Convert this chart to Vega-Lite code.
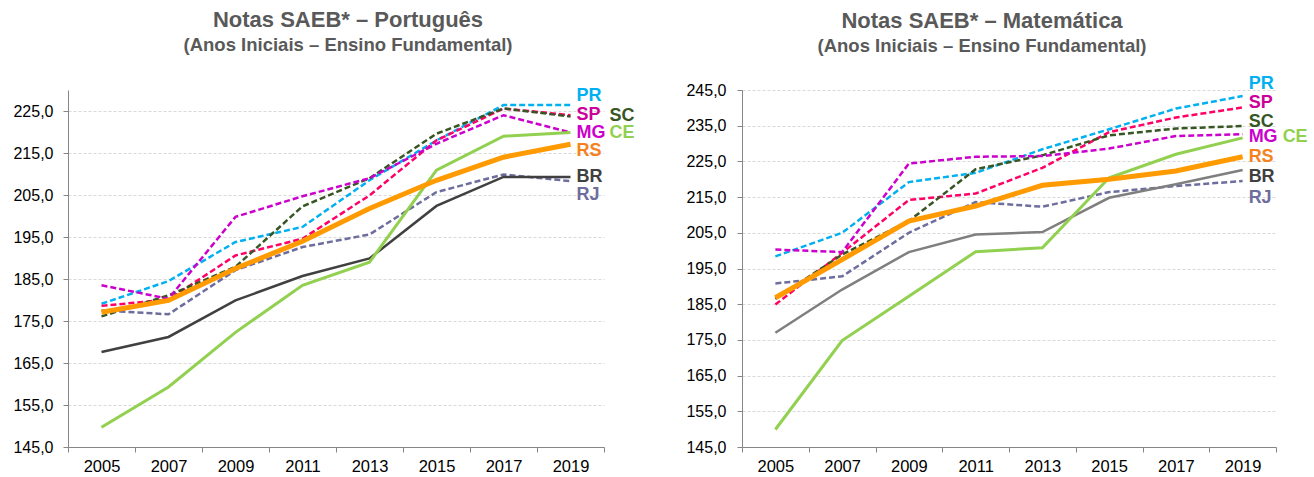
{
  "$schema": "https://vega.github.io/schema/vega-lite/v6.json",
  "autosize": {"type": "none"},
  "padding": {"left": 68, "top": 90, "right": 1246, "bottom": 387},
  "background": "white",
  "spacing": 138,
  "bounds": "flush",
  "config": {
    "font": "Liberation Sans",
    "view": {"stroke": null},
    "axis": {
      "labelFont": "Liberation Sans",
      "labelFontSize": 16,
      "labelColor": "#000000",
      "domainColor": "#868686",
      "tickColor": "#868686",
      "title": null
    },
    "axisY": {"grid": true, "gridColor": "#d9d9d9", "gridDash": [3, 2], "tickSize": 5, "labelPadding": 10},
    "axisX": {"grid": false, "tickSize": 5, "tickBand": "extent", "labelPadding": 6, "labelAngle": 0, "labelFontSize": 16.5}
  },
  "hconcat": [
    {
      "width": 536,
      "height": 357,
      "title": {"text": "Notas SAEB* – Português", "subtitle": "(Anos Iniciais – Ensino Fundamental)", "dx": 12,
                "font": "Liberation Sans", "fontSize": 22, "fontWeight": "bold", "color": "#595959",
                "subtitleFont": "Liberation Sans", "subtitleFontSize": 18.5, "subtitleFontWeight": "bold", "subtitleColor": "#595959",
                "subtitlePadding": 4, "offset": 31, "frame": "group", "anchor": "middle"},
      "data": {"values": [
        {"uf": "PR", "ano": 2005, "nota": 179.1}, {"uf": "PR", "ano": 2007, "nota": 184.5}, {"uf": "PR", "ano": 2009, "nota": 193.8}, {"uf": "PR", "ano": 2011, "nota": 197.4}, {"uf": "PR", "ano": 2013, "nota": 208.5}, {"uf": "PR", "ano": 2015, "nota": 218.0}, {"uf": "PR", "ano": 2017, "nota": 226.4}, {"uf": "PR", "ano": 2019, "nota": 226.4},
        {"uf": "SP", "ano": 2005, "nota": 178.6}, {"uf": "SP", "ano": 2007, "nota": 180.1}, {"uf": "SP", "ano": 2009, "nota": 190.6}, {"uf": "SP", "ano": 2011, "nota": 194.6}, {"uf": "SP", "ano": 2013, "nota": 204.9}, {"uf": "SP", "ano": 2015, "nota": 218.0}, {"uf": "SP", "ano": 2017, "nota": 225.6}, {"uf": "SP", "ano": 2019, "nota": 224.0},
        {"uf": "SC", "ano": 2005, "nota": 176.1}, {"uf": "SC", "ano": 2007, "nota": 181.1}, {"uf": "SC", "ano": 2009, "nota": 187.9}, {"uf": "SC", "ano": 2011, "nota": 202.3}, {"uf": "SC", "ano": 2013, "nota": 209.0}, {"uf": "SC", "ano": 2015, "nota": 219.6}, {"uf": "SC", "ano": 2017, "nota": 225.6}, {"uf": "SC", "ano": 2019, "nota": 223.7},
        {"uf": "MG", "ano": 2005, "nota": 183.5}, {"uf": "MG", "ano": 2007, "nota": 180.3}, {"uf": "MG", "ano": 2009, "nota": 199.8}, {"uf": "MG", "ano": 2011, "nota": 204.7}, {"uf": "MG", "ano": 2013, "nota": 209.0}, {"uf": "MG", "ano": 2015, "nota": 217.2}, {"uf": "MG", "ano": 2017, "nota": 224.0}, {"uf": "MG", "ano": 2019, "nota": 219.9},
        {"uf": "RJ", "ano": 2005, "nota": 177.5}, {"uf": "RJ", "ano": 2007, "nota": 176.6}, {"uf": "RJ", "ano": 2009, "nota": 187.1}, {"uf": "RJ", "ano": 2011, "nota": 192.6}, {"uf": "RJ", "ano": 2013, "nota": 195.6}, {"uf": "RJ", "ano": 2015, "nota": 205.7}, {"uf": "RJ", "ano": 2017, "nota": 209.9}, {"uf": "RJ", "ano": 2019, "nota": 208.3},
        {"uf": "BR", "ano": 2005, "nota": 167.6}, {"uf": "BR", "ano": 2007, "nota": 171.2}, {"uf": "BR", "ano": 2009, "nota": 179.9}, {"uf": "BR", "ano": 2011, "nota": 185.7}, {"uf": "BR", "ano": 2013, "nota": 189.9}, {"uf": "BR", "ano": 2015, "nota": 202.4}, {"uf": "BR", "ano": 2017, "nota": 209.3}, {"uf": "BR", "ano": 2019, "nota": 209.3},
        {"uf": "CE", "ano": 2005, "nota": 149.7}, {"uf": "CE", "ano": 2007, "nota": 159.3}, {"uf": "CE", "ano": 2009, "nota": 172.3}, {"uf": "CE", "ano": 2011, "nota": 183.5}, {"uf": "CE", "ano": 2013, "nota": 189.0}, {"uf": "CE", "ano": 2015, "nota": 210.9}, {"uf": "CE", "ano": 2017, "nota": 219.0}, {"uf": "CE", "ano": 2019, "nota": 219.9},
        {"uf": "RS", "ano": 2005, "nota": 177.1}, {"uf": "RS", "ano": 2007, "nota": 179.9}, {"uf": "RS", "ano": 2009, "nota": 187.5}, {"uf": "RS", "ano": 2011, "nota": 194.0}, {"uf": "RS", "ano": 2013, "nota": 201.8}, {"uf": "RS", "ano": 2015, "nota": 208.5}, {"uf": "RS", "ano": 2017, "nota": 214.0}, {"uf": "RS", "ano": 2019, "nota": 217.1}
      ]},
      "encoding": {
        "x": {"field": "ano", "type": "ordinal", "scale": {"type": "band", "paddingInner": 0, "paddingOuter": 0}},
        "y": {"field": "nota", "type": "quantitative", "scale": {"domain": [145, 230], "nice": false, "zero": false},
              "axis": {"values": [145, 155, 165, 175, 185, 195, 205, 215, 225], "labelExpr": "replace(format(datum.value, '.1f'), '.', ',')"}}
      },
      "layer": [
        {
          "transform": [{"filter": {"field": "uf", "oneOf": ["RJ", "MG", "SP", "PR", "SC"]}}],
          "mark": {"type": "line", "strokeWidth": 2.5, "strokeDash": [6, 3]},
          "encoding": {
            "stroke": {"field": "uf", "type": "nominal", "legend": null,
                       "scale": {"domain": ["PR", "SP", "SC", "MG", "RJ"], "range": ["#00b0f0", "#ff0066", "#375623", "#cc00cc", "#6d6d9e"]}},
            "detail": {"field": "uf"}
          }
        },
        {
          "transform": [{"filter": {"field": "uf", "equal": "BR"}}],
          "mark": {"type": "line", "strokeWidth": 2.5, "stroke": "#404040"},
          "encoding": {}
        },
        {
          "transform": [{"filter": {"field": "uf", "equal": "CE"}}],
          "mark": {"type": "line", "strokeWidth": 3, "stroke": "#92d050"},
          "encoding": {}
        },
        {
          "transform": [{"filter": {"field": "uf", "equal": "RS"}}],
          "mark": {"type": "line", "strokeWidth": 5, "stroke": "#ff9a00"},
          "encoding": {}
        },
        {
          "data": {"values": [
            {"uf": "PR", "ano": 2019, "nota": 228.6}, {"uf": "SP", "ano": 2019, "nota": 224.0}, {"uf": "MG", "ano": 2019, "nota": 219.7},
            {"uf": "RS", "ano": 2019, "nota": 215.5}, {"uf": "BR", "ano": 2019, "nota": 209.2}, {"uf": "RJ", "ano": 2019, "nota": 205.0}
          ]},
          "mark": {"type": "text", "align": "left", "baseline": "middle", "dx": 6, "fontSize": 18, "fontWeight": "bold", "font": "Liberation Sans"},
          "encoding": {
            "text": {"field": "uf"},
            "fill": {"field": "uf", "type": "nominal", "legend": null,
                     "scale": {"domain": ["PR", "SP", "SC", "MG", "CE", "RS", "BR", "RJ"], "range": ["#00b0f0", "#cc0099", "#375623", "#cc00cc", "#92d050", "#f58220", "#404040", "#6d6d9e"]}}
          }
        },
        {
          "data": {"values": [
            {"uf": "SC", "ano": 2019, "nota": 223.8}, {"uf": "CE", "ano": 2019, "nota": 219.7}
          ]},
          "mark": {"type": "text", "align": "left", "baseline": "middle", "dx": 39, "fontSize": 18, "fontWeight": "bold", "font": "Liberation Sans"},
          "encoding": {
            "text": {"field": "uf"},
            "fill": {"field": "uf", "type": "nominal", "legend": null}
          }
        }
      ]
    },
    {
      "width": 534,
      "height": 357,
      "title": {"text": "Notas SAEB* – Matemática", "subtitle": "(Anos Iniciais – Ensino Fundamental)", "dx": -27,
                "font": "Liberation Sans", "fontSize": 22, "fontWeight": "bold", "color": "#595959",
                "subtitleFont": "Liberation Sans", "subtitleFontSize": 18.5, "subtitleFontWeight": "bold", "subtitleColor": "#595959",
                "subtitlePadding": 4, "offset": 18, "frame": "group", "anchor": "middle"},
      "data": {"values": [
        {"uf": "PR", "ano": 2005, "nota": 198.4}, {"uf": "PR", "ano": 2007, "nota": 205.0}, {"uf": "PR", "ano": 2009, "nota": 219.2}, {"uf": "PR", "ano": 2011, "nota": 221.8}, {"uf": "PR", "ano": 2013, "nota": 228.4}, {"uf": "PR", "ano": 2015, "nota": 234.0}, {"uf": "PR", "ano": 2017, "nota": 239.8}, {"uf": "PR", "ano": 2019, "nota": 243.3},
        {"uf": "SP", "ano": 2005, "nota": 184.9}, {"uf": "SP", "ano": 2007, "nota": 199.4}, {"uf": "SP", "ano": 2009, "nota": 214.2}, {"uf": "SP", "ano": 2011, "nota": 216.0}, {"uf": "SP", "ano": 2013, "nota": 223.2}, {"uf": "SP", "ano": 2015, "nota": 233.2}, {"uf": "SP", "ano": 2017, "nota": 237.3}, {"uf": "SP", "ano": 2019, "nota": 240.1},
        {"uf": "SC", "ano": 2005, "nota": 186.5}, {"uf": "SC", "ano": 2007, "nota": 198.9}, {"uf": "SC", "ano": 2009, "nota": 208.3}, {"uf": "SC", "ano": 2011, "nota": 222.8}, {"uf": "SC", "ano": 2013, "nota": 226.7}, {"uf": "SC", "ano": 2015, "nota": 232.3}, {"uf": "SC", "ano": 2017, "nota": 234.2}, {"uf": "SC", "ano": 2019, "nota": 234.9},
        {"uf": "MG", "ano": 2005, "nota": 200.3}, {"uf": "MG", "ano": 2007, "nota": 199.6}, {"uf": "MG", "ano": 2009, "nota": 224.4}, {"uf": "MG", "ano": 2011, "nota": 226.3}, {"uf": "MG", "ano": 2013, "nota": 226.5}, {"uf": "MG", "ano": 2015, "nota": 228.6}, {"uf": "MG", "ano": 2017, "nota": 232.1}, {"uf": "MG", "ano": 2019, "nota": 232.6},
        {"uf": "RJ", "ano": 2005, "nota": 190.8}, {"uf": "RJ", "ano": 2007, "nota": 192.8}, {"uf": "RJ", "ano": 2009, "nota": 205.0}, {"uf": "RJ", "ano": 2011, "nota": 213.6}, {"uf": "RJ", "ano": 2013, "nota": 212.3}, {"uf": "RJ", "ano": 2015, "nota": 216.4}, {"uf": "RJ", "ano": 2017, "nota": 218.1}, {"uf": "RJ", "ano": 2019, "nota": 219.5},
        {"uf": "BR", "ano": 2005, "nota": 177.0}, {"uf": "BR", "ano": 2007, "nota": 189.1}, {"uf": "BR", "ano": 2009, "nota": 199.6}, {"uf": "BR", "ano": 2011, "nota": 204.5}, {"uf": "BR", "ano": 2013, "nota": 205.2}, {"uf": "BR", "ano": 2015, "nota": 214.8}, {"uf": "BR", "ano": 2017, "nota": 218.6}, {"uf": "BR", "ano": 2019, "nota": 222.6},
        {"uf": "CE", "ano": 2005, "nota": 149.9}, {"uf": "CE", "ano": 2007, "nota": 174.8}, {"uf": "CE", "ano": 2009, "nota": 187.2}, {"uf": "CE", "ano": 2011, "nota": 199.7}, {"uf": "CE", "ano": 2013, "nota": 200.8}, {"uf": "CE", "ano": 2015, "nota": 220.4}, {"uf": "CE", "ano": 2017, "nota": 227.0}, {"uf": "CE", "ano": 2019, "nota": 231.6},
        {"uf": "RS", "ano": 2005, "nota": 186.8}, {"uf": "RS", "ano": 2007, "nota": 197.5}, {"uf": "RS", "ano": 2009, "nota": 208.3}, {"uf": "RS", "ano": 2011, "nota": 212.5}, {"uf": "RS", "ano": 2013, "nota": 218.3}, {"uf": "RS", "ano": 2015, "nota": 220.0}, {"uf": "RS", "ano": 2017, "nota": 222.3}, {"uf": "RS", "ano": 2019, "nota": 226.3}
      ]},
      "encoding": {
        "x": {"field": "ano", "type": "ordinal", "scale": {"type": "band", "paddingInner": 0, "paddingOuter": 0}},
        "y": {"field": "nota", "type": "quantitative", "scale": {"domain": [145, 245], "nice": false, "zero": false},
              "axis": {"values": [145, 155, 165, 175, 185, 195, 205, 215, 225, 235, 245], "labelPadding": 11, "labelExpr": "replace(format(datum.value, '.1f'), '.', ',')"}}
      },
      "layer": [
        {
          "transform": [{"filter": {"field": "uf", "oneOf": ["RJ", "MG", "SP", "PR", "SC"]}}],
          "mark": {"type": "line", "strokeWidth": 2.5, "strokeDash": [6, 3]},
          "encoding": {
            "stroke": {"field": "uf", "type": "nominal", "legend": null},
            "detail": {"field": "uf"}
          }
        },
        {
          "transform": [{"filter": {"field": "uf", "equal": "BR"}}],
          "mark": {"type": "line", "strokeWidth": 2.5, "stroke": "#7f7f7f"},
          "encoding": {}
        },
        {
          "transform": [{"filter": {"field": "uf", "equal": "CE"}}],
          "mark": {"type": "line", "strokeWidth": 3, "stroke": "#92d050"},
          "encoding": {}
        },
        {
          "transform": [{"filter": {"field": "uf", "equal": "RS"}}],
          "mark": {"type": "line", "strokeWidth": 5, "stroke": "#ff9a00"},
          "encoding": {}
        },
        {
          "data": {"values": [
            {"uf": "PR", "ano": 2019, "nota": 246.7}, {"uf": "SP", "ano": 2019, "nota": 241.3}, {"uf": "SC", "ano": 2019, "nota": 236.1}, {"uf": "MG", "ano": 2019, "nota": 231.9},
            {"uf": "RS", "ano": 2019, "nota": 226.1}, {"uf": "BR", "ano": 2019, "nota": 220.7}, {"uf": "RJ", "ano": 2019, "nota": 214.8}
          ]},
          "mark": {"type": "text", "align": "left", "baseline": "middle", "dx": 6, "fontSize": 18, "fontWeight": "bold", "font": "Liberation Sans"},
          "encoding": {
            "text": {"field": "uf"},
            "fill": {"field": "uf", "type": "nominal", "legend": null}
          }
        },
        {
          "data": {"values": [
            {"uf": "CE", "ano": 2019, "nota": 231.9}
          ]},
          "mark": {"type": "text", "align": "left", "baseline": "middle", "dx": 40, "fontSize": 18, "fontWeight": "bold", "font": "Liberation Sans"},
          "encoding": {
            "text": {"field": "uf"},
            "fill": {"field": "uf", "type": "nominal", "legend": null}
          }
        }
      ]
    }
  ]
}
